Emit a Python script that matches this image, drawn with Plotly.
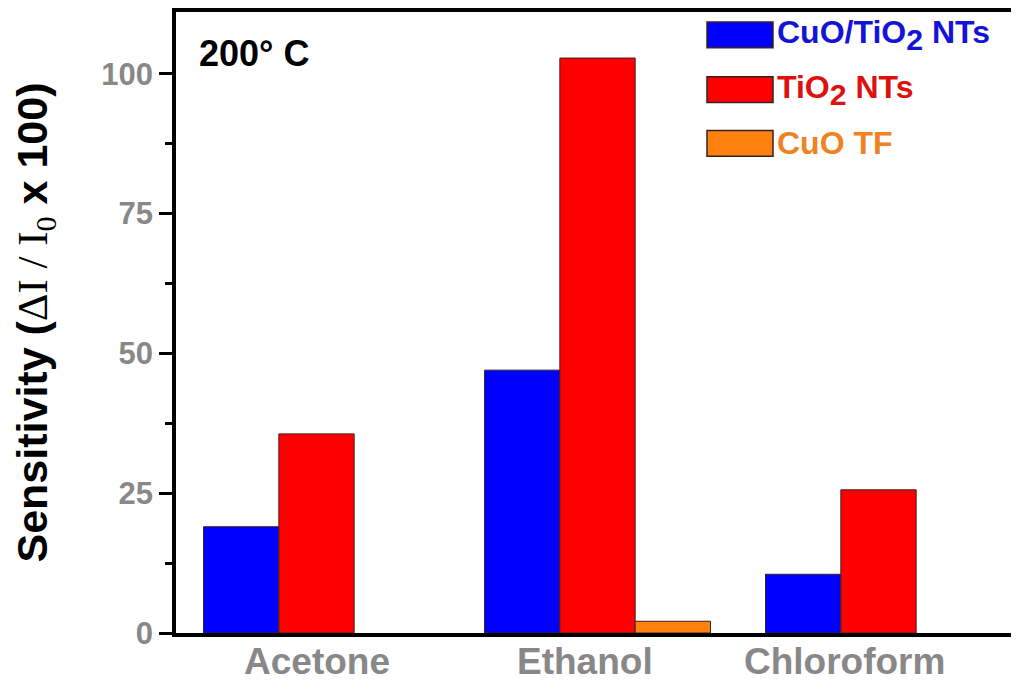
import plotly.graph_objects as go

categories = ["Acetone", "Ethanol", "Chloroform"]
series_names = ["CuO/TiO<sub><span style='font-size:135%'>2</span></sub> NTs",
                "TiO<sub><span style='font-size:135%'>2</span></sub> NTs", "CuO TF"]
cuo_tio2 = [19.0, 47.0, 10.5]
tio2 = [35.6, 102.8, 25.6]
cuo_tf = [None, 2.1, None]
y_ticks = [0, 25, 50, 75, 100]

bar_colors = ["#0000FF", "#FF0000", "#FF8210"]
text_colors = ["#1414D8", "#E01010", "#F08222"]
label_xshift = [0, -13, -34]

# page is offset by the 8px default body margin
OFF = 8
PAGE_W, PAGE_H = 1019, 681
W, H = PAGE_W - OFF, PAGE_H - OFF
ML, MR, MT, MB = 176 - OFF, 0, 8 - OFF + 1, PAGE_H - 633
PW, PH = W - ML - MR, H - MT - MB

def px2paper(px, py):
    # px, py are page pixel coordinates
    return (px - OFF - ML) / PW, (H - MB - (py - OFF)) / PH

fig = go.Figure()
for name, vals, col in zip(series_names, [cuo_tio2, tio2, cuo_tf], bar_colors):
    fig.add_trace(go.Bar(x=categories, y=vals, name=name,
                         marker=dict(color=col, line=dict(color="#3a2020", width=1)),
                         showlegend=False))

# category labels
for cat, dx in zip(categories, label_xshift):
    fig.add_annotation(x=cat, y=0, xref="x", yref="paper", yanchor="top", xanchor="center",
                       text=cat, showarrow=False, xshift=dx, yshift=-6,
                       font=dict(family="Arial, Liberation Sans", size=37, color="#888888", weight="bold"))

# temperature label
tx, ty = px2paper(197, 51)
fig.add_annotation(x=tx, y=ty, xref="paper", yref="paper",
                   xanchor="left", yanchor="middle", text="200° C", showarrow=False,
                   font=dict(family="Arial, Liberation Sans", size=36, color="black", weight="bold"))

# legend (custom, large swatches)
row_y = [32, 87, 141]
for name, col, tcol, ry in zip(series_names, bar_colors, text_colors, row_y):
    x0, y0 = px2paper(707, ry + 13)
    x1, y1 = px2paper(773, ry - 13)
    fig.add_shape(type="rect", xref="paper", yref="paper", x0=x0, y0=y0, x1=x1, y1=y1,
                  fillcolor=col, line=dict(color="#3a2020", width=1.5))
    lx, ly = px2paper(775, ry)
    fig.add_annotation(x=lx, y=ly, xref="paper", yref="paper", xanchor="left", yanchor="middle",
                       text=name, showarrow=False,
                       font=dict(family="Arial, Liberation Sans", size=32, color=tcol, weight="bold"))

fig.update_layout(
    width=W, height=H,
    margin=dict(l=ML, r=MR, t=MT, b=MB, pad=0),
    paper_bgcolor="white", plot_bgcolor="white",
    barmode="group", bargap=0.196, bargroupgap=0,
    showlegend=False,
    xaxis=dict(type="category", range=[-0.5, 2.5], showline=True, linecolor="black", linewidth=3.5,
               mirror=True, ticks="", showticklabels=False, showgrid=False, zeroline=False),
    yaxis=dict(range=[0, PH / 5.62], tickvals=y_ticks, ticks="outside", ticklen=13, tickwidth=3,
               tickcolor="black", showline=True, linecolor="black", linewidth=3.5, showgrid=False,
               zeroline=False,
               minor=dict(ticks="outside", ticklen=7, tickwidth=3, tickcolor="black", dtick=12.5, tick0=0),
               tickfont=dict(family="Arial, Liberation Sans", size=31, color="#888888", weight="bold"),
               title=dict(text="Sensitivity (<span style='font-family:Liberation Serif;font-weight:normal'>ΔI / I<sub>0</sub></span> x 100)",
                          font=dict(family="Arial, Liberation Sans", size=43, color="black", weight="bold"),
                          standoff=42)),
)

fig.write_html("out.html")
